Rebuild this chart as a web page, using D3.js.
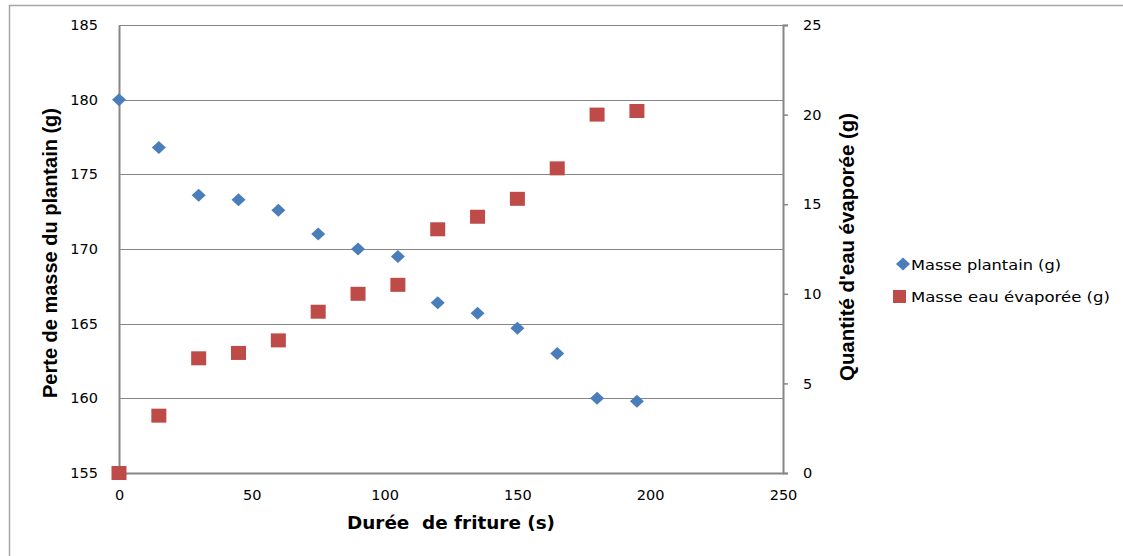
<!DOCTYPE html>
<html>
<head>
<meta charset="utf-8">
<script src="https://cdn.jsdelivr.net/npm/d3@7"></script>
<style>
  html, body { margin: 0; padding: 0; background: #fff; }
  svg { display: block; }
  text { white-space: pre; }
</style>
</head>
<body>
<svg id="chart" width="1123" height="556"></svg>
<script>
// ---- Data ----
const durations = [0, 15, 30, 45, 60, 75, 90, 105, 120, 135, 150, 165, 180, 195];
const massePlantain = [180, 176.8, 173.6, 173.3, 172.6, 171, 170, 169.5, 166.4, 165.7, 164.7, 163, 160, 159.8];
const masseEau = [0, 3.2, 6.4, 6.7, 7.4, 9, 10, 10.5, 13.6, 14.3, 15.3, 17, 20, 20.2];
const xTicks = [0, 50, 100, 150, 200, 250];
const yLeftTicks = [155, 160, 165, 170, 175, 180, 185];
const yRightTicks = [0, 5, 10, 15, 20, 25];
const seriesNames = ["Masse plantain (g)", "Masse eau évaporée (g)"];
const xTitle = "Durée  de friture (s)";
const yLeftTitle = "Perte de masse du plantain (g)";
const yRightTitle = "Quantité d'eau évaporée (g)";

const svg = d3.select("#chart");
const pLeft = 119, pRight = 783, pTop = 25, pBottom = 473;
const axisColor = "#868686";
const blue = "#4a7ebb", red = "#be4b48";
const tickFont = "DejaVu Sans, Verdana, sans-serif";

const x = d3.scaleLinear().domain([0, 250]).range([pLeft, pRight]);
const yL = d3.scaleLinear().domain([155, 185]).range([pBottom, pTop]);
const yR = d3.scaleLinear().domain([0, 25]).range([pBottom, pTop]);

// outer frame
svg.append("rect").attr("x", 9.5).attr("y", 5.5).attr("width", 1200).attr("height", 600)
  .attr("fill", "none").attr("stroke", "#a6a6a6").attr("stroke-width", 1.5);

// gridlines (left axis)
svg.append("g").selectAll("line").data(yLeftTicks).join("line")
  .attr("x1", pLeft).attr("x2", pRight)
  .attr("y1", d => Math.round(yL(d)) + 0.5).attr("y2", d => Math.round(yL(d)) + 0.5)
  .attr("stroke", axisColor).attr("stroke-width", 1);

// left axis
const gL = svg.append("g").attr("transform", `translate(${pLeft},0)`)
  .call(d3.axisLeft(yL).tickValues(yLeftTicks).tickSize(0).tickPadding(21));
gL.select(".domain").attr("stroke", axisColor).attr("stroke-width", 2);
gL.selectAll("text").attr("font-family", tickFont).attr("font-size", 14.5).attr("fill", "#000");

// right axis
const gR = svg.append("g").attr("transform", `translate(${pRight},0)`)
  .call(d3.axisRight(yR).tickValues(yRightTicks).tickSize(5).tickPadding(15));
gR.select(".domain").attr("stroke", axisColor).attr("stroke-width", 2);
gR.selectAll(".tick line").attr("stroke", axisColor).attr("stroke-width", 1.5);
gR.selectAll("text").attr("font-family", tickFont).attr("font-size", 14.5).attr("fill", "#000");

// bottom axis
const gB = svg.append("g").attr("transform", `translate(0,${pBottom})`)
  .call(d3.axisBottom(x).tickValues(xTicks).tickSize(0).tickPadding(17));
gB.select(".domain").attr("stroke", axisColor).attr("stroke-width", 2);
gB.selectAll("text").attr("font-family", tickFont).attr("font-size", 14.5).attr("fill", "#000");

// red squares (right axis)
svg.append("g").selectAll("rect").data(durations.map((d, i) => [d, masseEau[i]])).join("rect")
  .attr("x", d => x(d[0]) - 7.5).attr("y", d => yR(d[1]) - 7)
  .attr("width", 15).attr("height", 14).attr("fill", red);

// blue diamonds (left axis)
const diamond = (cx, cy) => `M${cx},${cy - 6.5}L${cx + 7},${cy}L${cx},${cy + 6.5}L${cx - 7},${cy}Z`;
svg.append("g").selectAll("path").data(durations.map((d, i) => [d, massePlantain[i]])).join("path")
  .attr("d", d => diamond(x(d[0]), yL(d[1]))).attr("fill", blue);

// axis titles
svg.append("text").attr("transform", `translate(57,253) rotate(-90)`)
  .attr("text-anchor", "middle").attr("font-family", "Liberation Sans Narrow, Liberation Sans, Arial, sans-serif")
  .attr("font-weight", "bold").attr("font-size", 20)
  .attr("textLength", 290).attr("lengthAdjust", "spacingAndGlyphs")
  .text(yLeftTitle);
svg.append("text").attr("transform", `translate(854,247) rotate(-90)`)
  .attr("text-anchor", "middle").attr("font-family", "Liberation Sans Narrow, Liberation Sans, Arial, sans-serif")
  .attr("font-weight", "bold").attr("font-size", 20)
  .attr("textLength", 268).attr("lengthAdjust", "spacingAndGlyphs")
  .text(yRightTitle);
svg.append("text").attr("x", 451).attr("y", 529)
  .attr("text-anchor", "middle").attr("font-family", tickFont)
  .attr("font-weight", "bold").attr("font-size", 18)
  .attr("textLength", 208).attr("lengthAdjust", "spacingAndGlyphs")
  .text(xTitle);

// legend
const lg = svg.append("g");
lg.append("path").attr("d", diamond(903, 264)).attr("fill", blue);
lg.append("rect").attr("x", 893).attr("y", 290).attr("width", 13).attr("height", 13).attr("fill", red);
lg.append("text").attr("x", 911).attr("y", 270).attr("font-family", tickFont).attr("font-size", 14)
  .attr("textLength", 150).attr("lengthAdjust", "spacingAndGlyphs").text(seriesNames[0]);
lg.append("text").attr("x", 911).attr("y", 302).attr("font-family", tickFont).attr("font-size", 14)
  .attr("textLength", 199).attr("lengthAdjust", "spacingAndGlyphs").text(seriesNames[1]);
</script>
</body>
</html>
